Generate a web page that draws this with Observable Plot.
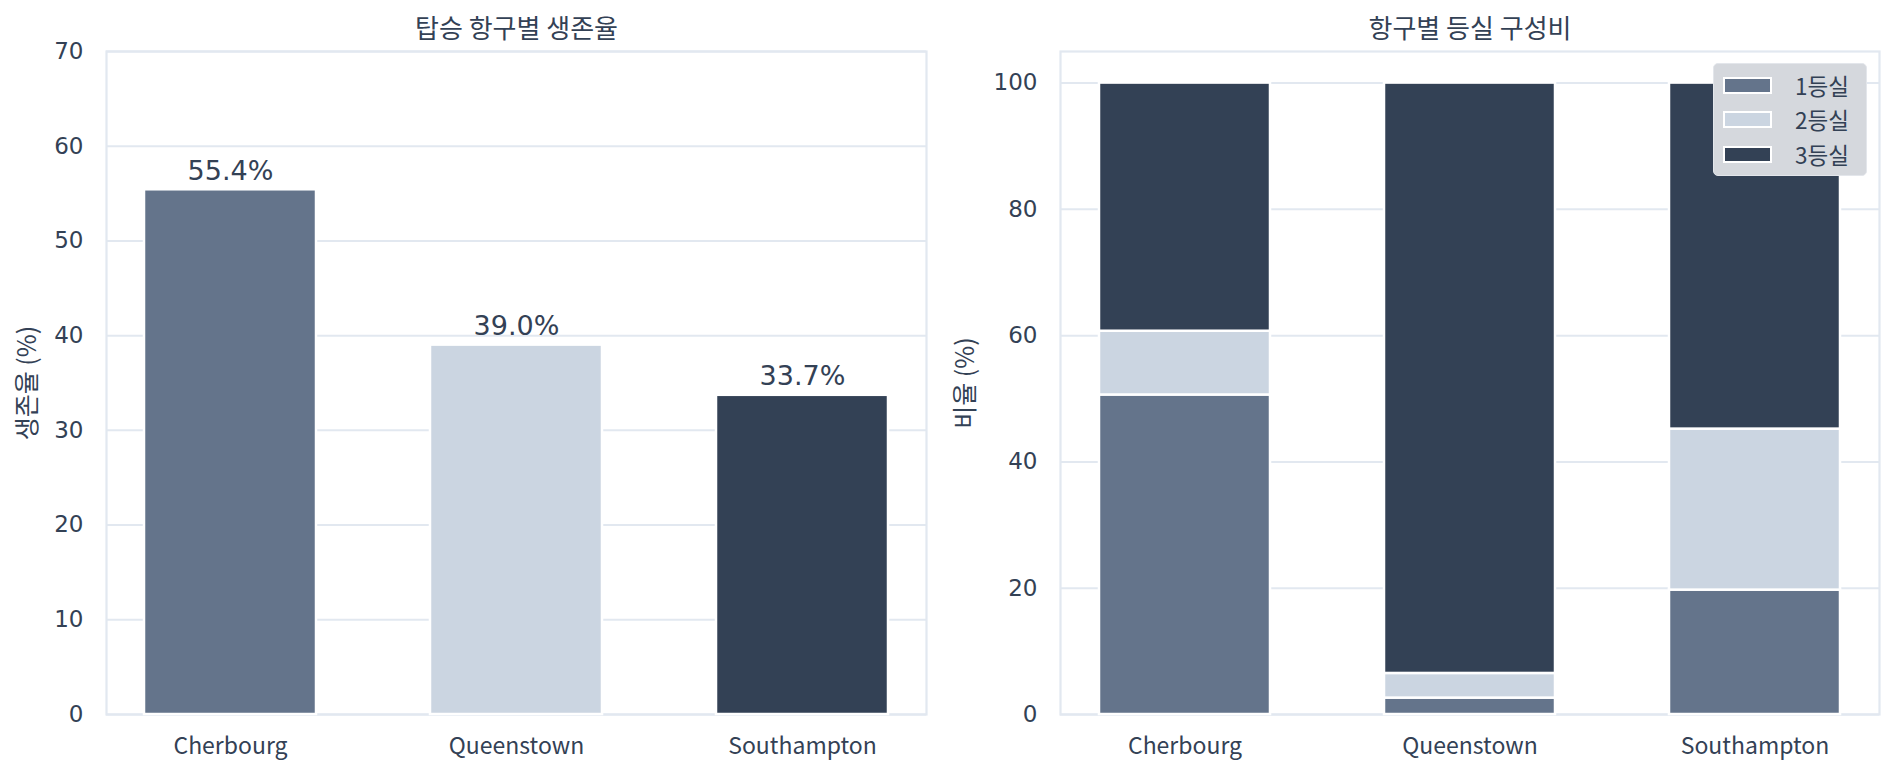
<!DOCTYPE html>
<html>
<head>
<meta charset="utf-8">
<script src="https://cdn.jsdelivr.net/npm/d3@7"></script>
<script src="https://cdn.jsdelivr.net/npm/@observablehq/plot@0.6"></script>
<style>
  html, body { margin: 0; padding: 0; background: #ffffff; }
  #wrap { position: relative; width: 1895px; height: 775px; display: flex; font-family: "Noto Sans CJK KR", sans-serif; }
  #legend { position: absolute; left: 1713px; top: 63px; width: 154px; height: 113px; box-sizing: border-box;
            background: #d5d8dd; border: 1.5px solid #e3e6eb; border-radius: 5px; }
  .sw { position: absolute; left: 9px; width: 49px; height: 17px; box-sizing: border-box; border: 2px solid #ffffff; }
  .lb { position: absolute; left: 81px; font-size: 22.5px; color: #334155; line-height: 1; }
</style>
</head>
<body>
<div id="wrap"></div>
<script>
// ---- data ----
const ports = ["Cherbourg", "Queenstown", "Southampton"];
const survivalRate = [55.4, 39.0, 33.7];
const classes = ["1등실", "2등실", "3등실"];
const class1Pct = [50.6, 2.6, 19.7];
const class2Pct = [10.1, 3.9, 25.5];
const class3Pct = [39.3, 93.5, 54.8];
const palette = ["#64748b", "#cbd5e1", "#334155"];
const yTicksLeft = [0, 10, 20, 30, 40, 50, 60, 70];
const yTicksRight = [0, 20, 40, 60, 80, 100];
const titleLeft = "탑승 항구별 생존율";
const titleRight = "항구별 등실 구성비";
const yLabelLeft = "생존율 (%)";
const yLabelRight = "비율 (%)";

const textColor = "#334155";
const gridColor = "#e2e8f0";
const cjk = "Noto Sans CJK KR";
const digitFont = "DejaVu Sans";

const survivalData = ports.map((p, i) => ({port: p, rate: survivalRate[i]}));
const classSeries = [class1Pct, class2Pct, class3Pct];
const compData = [];
ports.forEach((p, i) => classes.forEach((c, j) => compData.push({port: p, cls: c, pct: classSeries[j][i]})));

const xOpts = {domain: ports, paddingInner: 0.4, paddingOuter: 0.132};

const left = Plot.plot({
  width: 950, height: 775,
  marginLeft: 106, marginRight: 24, marginTop: 51, marginBottom: 61,
  style: {color: textColor, fontFamily: cjk, background: "white", overflow: "visible"},
  x: {...xOpts, label: null},
  y: {domain: [0, 70], label: null},
  color: {domain: ports, range: palette},
  marks: [
    Plot.gridY(yTicksLeft, {stroke: gridColor, strokeOpacity: 1, strokeWidth: 2}),
    Plot.frame({stroke: gridColor, strokeWidth: 2.2}),
    Plot.barY(survivalData, {x: "port", y: "rate", fill: "port", stroke: "white", strokeWidth: 2.5}),
    Plot.text(survivalData, {x: "port", y: "rate", text: d => d.rate.toFixed(1) + "%", lineAnchor: "bottom", dy: -10,
      fontSize: 27, fontFamily: digitFont, fill: textColor}),
    Plot.axisX({tickSize: 0, tickPadding: 23, fontSize: 23, fontFamily: cjk, label: null}),
    Plot.axisY(yTicksLeft, {tickSize: 0, tickPadding: 23, fontSize: 23, fontFamily: digitFont, label: null}),
    Plot.text([titleLeft], {frameAnchor: "top", dy: -22, lineAnchor: "middle", fontSize: 26, fill: textColor, fontFamily: cjk}),
    Plot.text([yLabelLeft], {frameAnchor: "left", dx: -79, rotate: -90, textAnchor: "middle", lineAnchor: "middle",
      fontSize: 25, letterSpacing: 1, fill: textColor, fontFamily: cjk})
  ]
});

const right = Plot.plot({
  width: 945, height: 775,
  marginLeft: 110, marginRight: 16, marginTop: 51, marginBottom: 61,
  style: {color: textColor, fontFamily: cjk, background: "white", overflow: "visible"},
  x: {...xOpts, label: null},
  y: {domain: [0, 105], label: null},
  color: {domain: classes, range: palette},
  marks: [
    Plot.gridY(yTicksRight, {stroke: gridColor, strokeOpacity: 1, strokeWidth: 2}),
    Plot.frame({stroke: gridColor, strokeWidth: 2.2}),
    Plot.barY(compData, {x: "port", y: "pct", fill: "cls", stroke: "white", strokeWidth: 2.5}),
    Plot.axisX({tickSize: 0, tickPadding: 23, fontSize: 23, fontFamily: cjk, label: null}),
    Plot.axisY(yTicksRight, {tickSize: 0, tickPadding: 23, fontSize: 23, fontFamily: digitFont, label: null}),
    Plot.text([titleRight], {frameAnchor: "top", dy: -22, lineAnchor: "middle", fontSize: 26, fill: textColor, fontFamily: cjk}),
    Plot.text([yLabelRight], {frameAnchor: "left", dx: -95, rotate: -90, textAnchor: "middle", lineAnchor: "middle",
      fontSize: 25, letterSpacing: 1, fill: textColor, fontFamily: cjk})
  ]
});

const wrap = document.getElementById("wrap");
wrap.appendChild(left);
wrap.appendChild(right);

// legend
const legend = document.createElement("div");
legend.id = "legend";
const rowTops = [13, 47, 82];
classes.forEach((c, i) => {
  const sw = document.createElement("div");
  sw.className = "sw";
  sw.style.top = rowTops[i] + "px";
  sw.style.background = palette[i];
  legend.appendChild(sw);
  const lb = document.createElement("div");
  lb.className = "lb";
  lb.style.top = (rowTops[i] - 3) + "px";
  lb.textContent = c;
  legend.appendChild(lb);
});
wrap.appendChild(legend);
</script>
</body>
</html>
